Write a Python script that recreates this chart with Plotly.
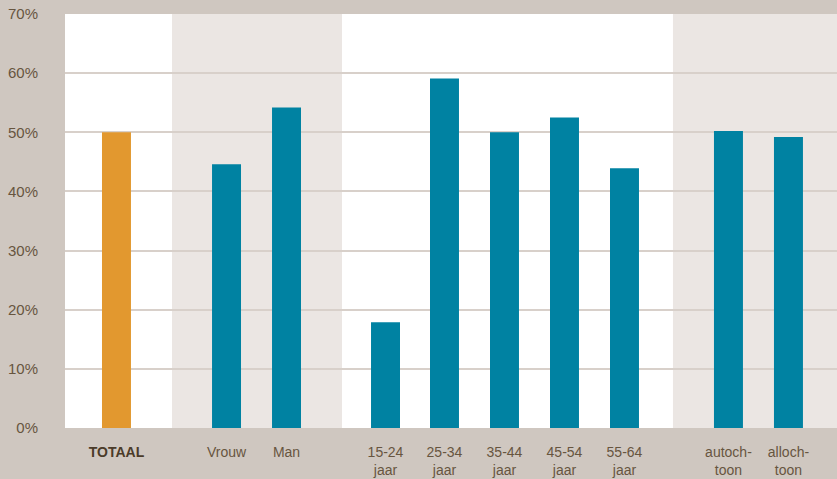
import plotly.graph_objects as go

categories = ["TOTAAL", "Vrouw", "Man", "15-24<br>jaar", "25-34<br>jaar", "35-44<br>jaar",
              "45-54<br>jaar", "55-64<br>jaar", "autoch-<br>toon", "alloch-<br>toon"]
values = [50.0, 44.6, 54.2, 17.9, 59.1, 50.0, 52.5, 43.9, 50.2, 49.2]
bar_colors = ["#e2982f"] + ["#0082a2"] * 9
y_ticks = [0, 10, 20, 30, 40, 50, 60, 70]
y_ticklabels = [f"{v}%" for v in y_ticks]

# layout: slot positions (in slot units) and background bands
slot_pos = [0.858, 2.692, 3.692, 5.342, 6.325, 7.325, 8.325, 9.325, 11.058, 12.058]
bands = [(0, 1.783, "#ffffff"), (1.783, 4.617, "#ebe6e3"),
         (4.617, 10.133, "#ffffff"), (10.133, 12.867, "#ebe6e3")]

tick_text = ["<b><span style='color:#4b3b29'>TOTAAL</span></b>"] + categories[1:]

fig = go.Figure()
fig.add_trace(go.Bar(x=slot_pos, y=values, marker_color=bar_colors,
                     marker_line_width=0, width=0.483, hoverinfo="skip"))

for x0, x1, c in bands:
    fig.add_shape(type="rect", xref="x", yref="paper", x0=x0, x1=x1, y0=0, y1=1,
                  fillcolor=c, line_width=0, layer="below")

fig.update_layout(
    width=837, height=479,
    margin=dict(l=65, r=0, t=14, b=51),
    paper_bgcolor="#cfc7c0",
    plot_bgcolor="#ffffff",
    showlegend=False,
    font=dict(family="Liberation Sans, Arial, sans-serif", color="#67553f"),
    xaxis=dict(range=[0, 12.867], tickmode="array", tickvals=slot_pos, ticktext=tick_text,
               showgrid=False, zeroline=False, showline=False, ticks="",
               tickfont=dict(size=14, color="#67553f"), ticklabelstandoff=14,
               fixedrange=True),
    yaxis=dict(range=[0, 70], tickmode="array", tickvals=y_ticks, ticktext=y_ticklabels,
               showgrid=True, gridcolor="#d8d0ca", gridwidth=1.5, zeroline=False,
               showline=False, ticks="", tickfont=dict(size=15, color="#67553f"),
               ticklabelstandoff=26, fixedrange=True),
)

fig.write_html("out.html", config={"displayModeBar": False},
               post_script="document.body.style.margin='0px';document.body.style.overflow='hidden';")
